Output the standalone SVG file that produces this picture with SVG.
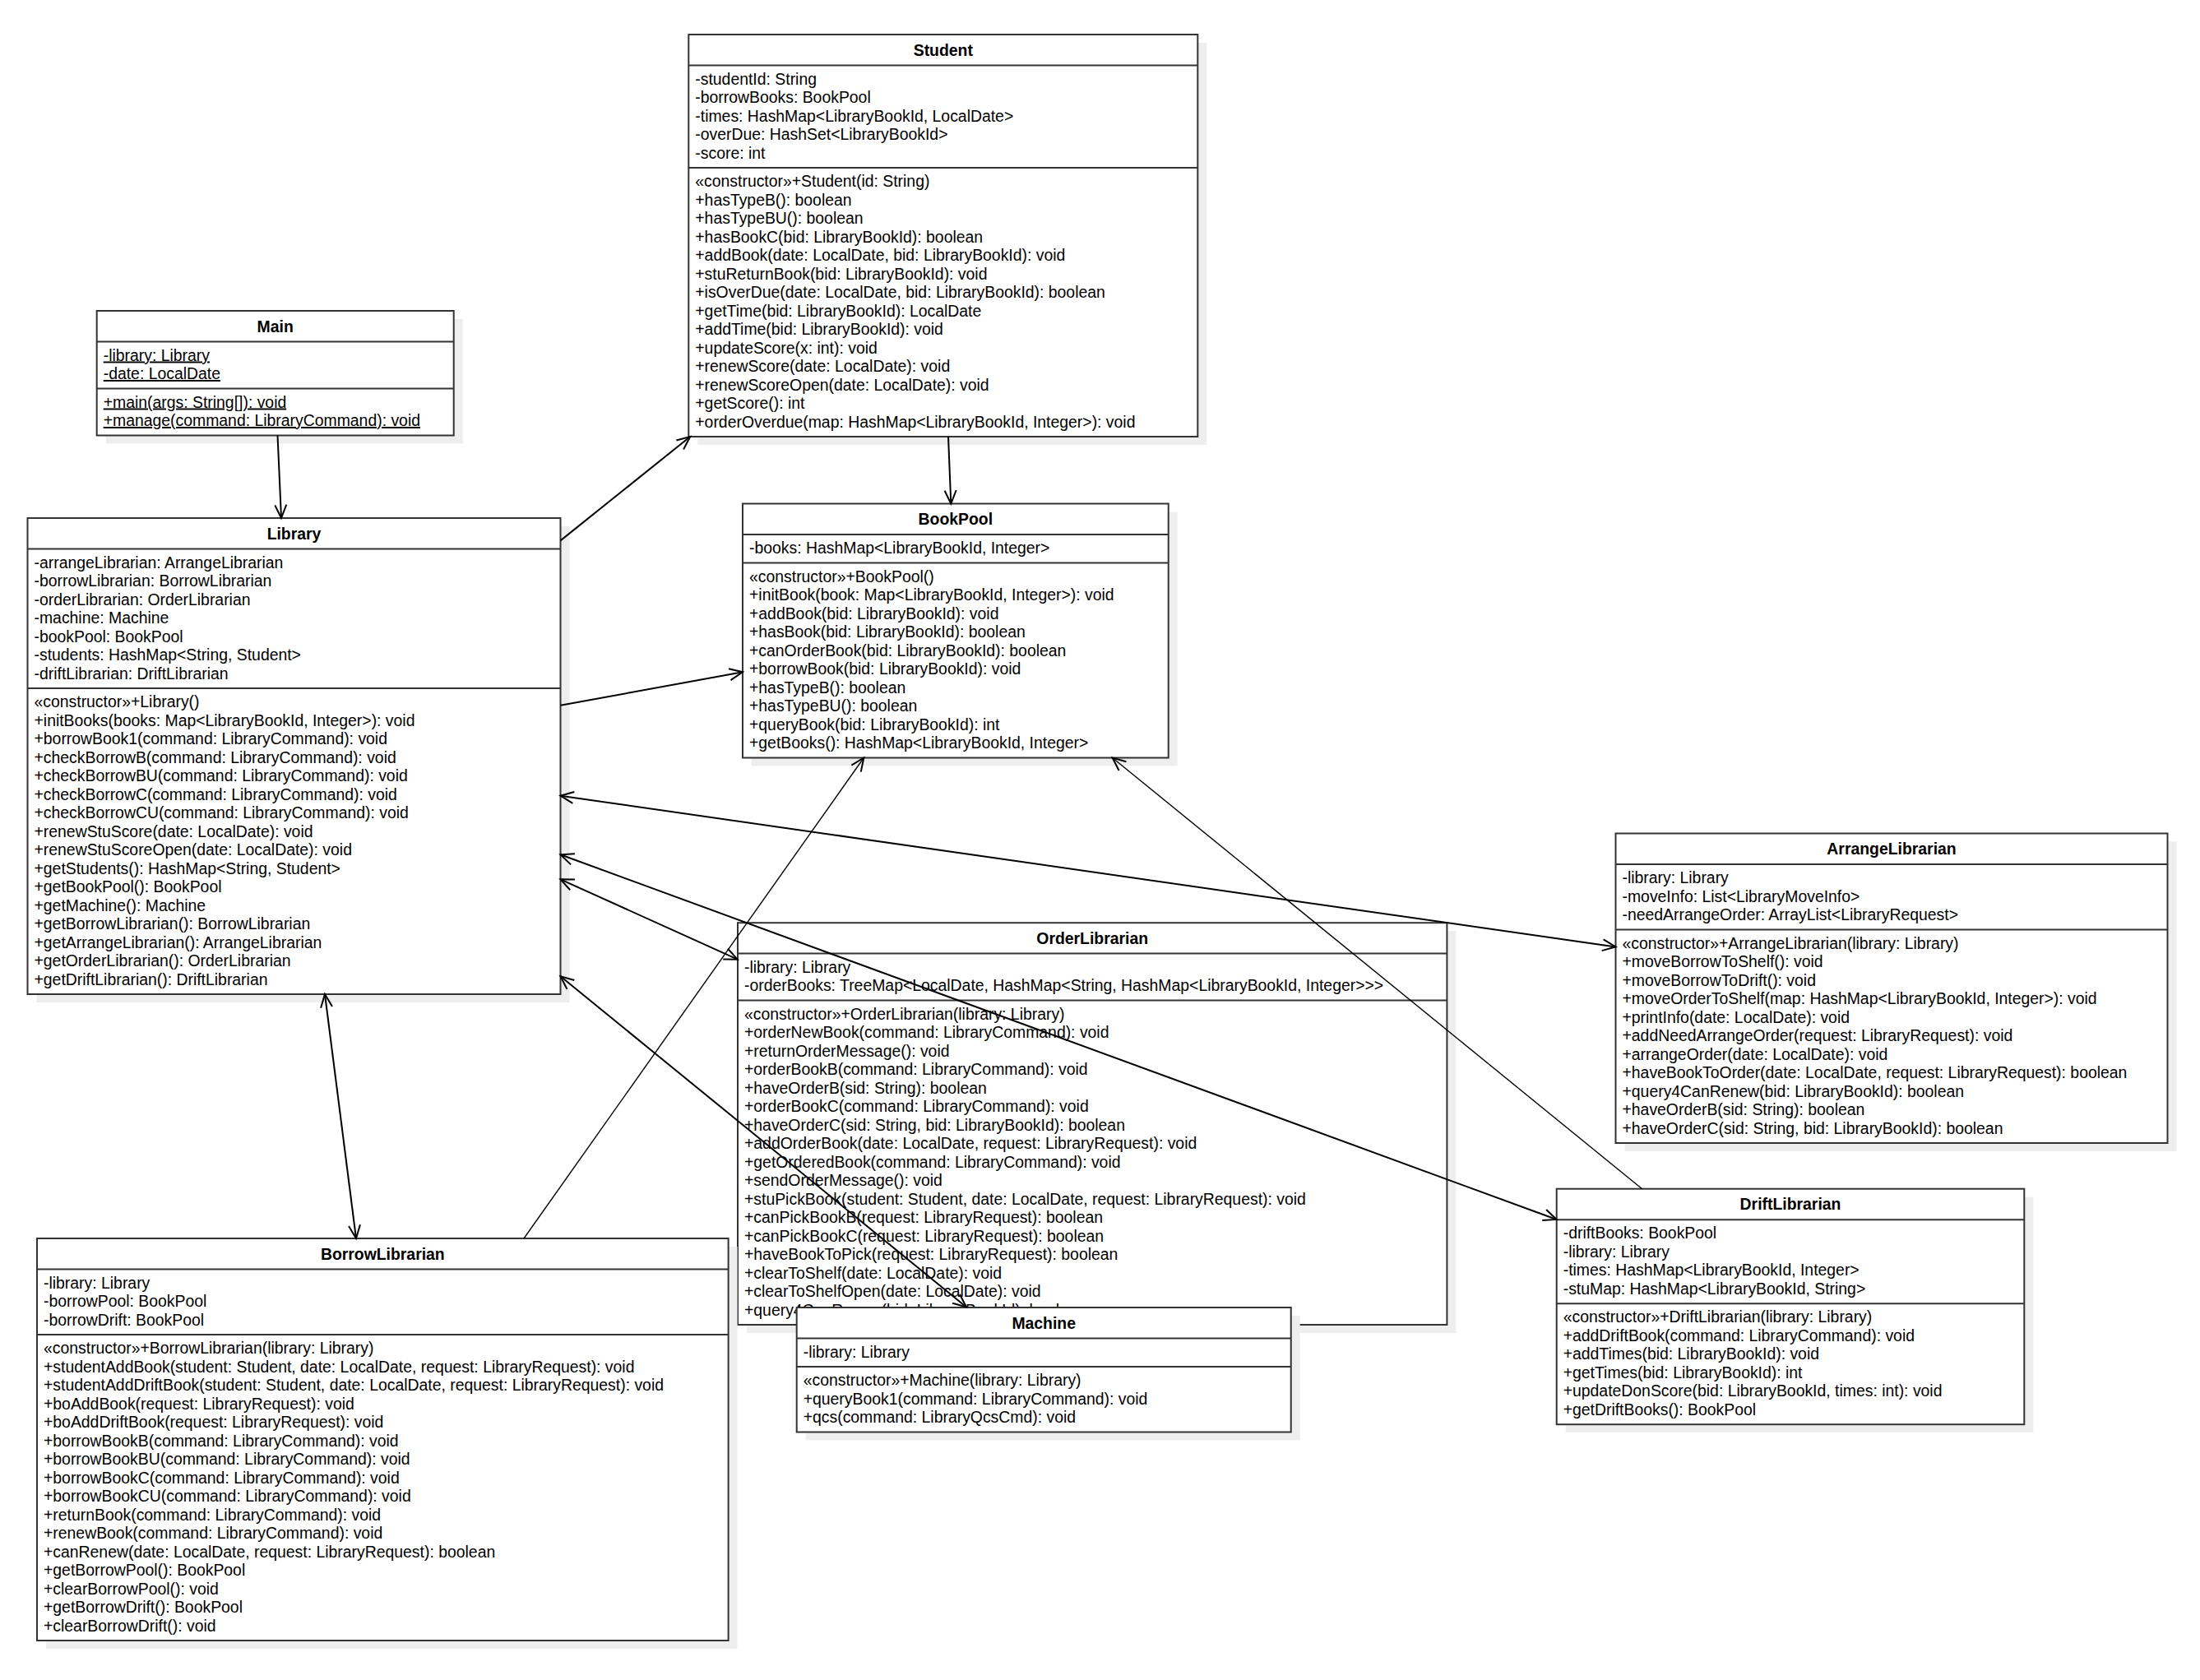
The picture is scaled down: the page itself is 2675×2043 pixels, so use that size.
<svg xmlns="http://www.w3.org/2000/svg" width="2675" height="2043" viewBox="0 0 2675 2043">
<style>
.bg{fill:#ffffff}
.shadow{fill:#eeeeee}
.box{fill:#ffffff;stroke:#333333;stroke-width:2}
.sep{stroke:#333333;stroke-width:2}
.t{font-family:"Liberation Sans",Arial,sans-serif;font-size:19.4px;fill:#000000}
.title{font-family:"Liberation Sans",Arial,sans-serif;font-size:19.4px;font-weight:bold;fill:#000000;text-anchor:middle}
.u{text-decoration:underline}
.conn{fill:none;stroke:#000000;stroke-width:2}
.thin{stroke-width:1.4}
</style>
<defs>
<marker id="arr" markerUnits="userSpaceOnUse" viewBox="-20 -10 22 20" refX="0" refY="0" markerWidth="22" markerHeight="20" orient="auto-start-reverse" overflow="visible">
<path d="M-16,-7 L0,0 L-16,7" fill="none" stroke="#000000" stroke-width="2"/>
</marker>
</defs>
<rect class="bg" x="0" y="0" width="2675" height="2043"/>

<g id="Main">
<rect class="shadow" x="128.7" y="388" width="434" height="151.5"/>
<rect class="box" x="117.7" y="378" width="434" height="151.5"/>
<line class="sep" x1="117.7" y1="415.5" x2="551.7" y2="415.5"/>
<line class="sep" x1="117.7" y1="472.5" x2="551.7" y2="472.5"/>
<text class="title" x="334.7" y="403.7">Main</text>
<text class="t u" x="125.7" y="438.5">-library: Library</text>
<text class="t u" x="125.7" y="461">-date: LocalDate</text>
<text class="t u" x="125.7" y="495.5">+main(args: String[]): void</text>
<text class="t u" x="125.7" y="518">+manage(command: LibraryCommand): void</text>
</g>

<g id="Student">
<rect class="shadow" x="848.3" y="52" width="619" height="489"/>
<rect class="box" x="837.3" y="42" width="619" height="489"/>
<line class="sep" x1="837.3" y1="79.5" x2="1456.3" y2="79.5"/>
<line class="sep" x1="837.3" y1="204" x2="1456.3" y2="204"/>
<text class="title" x="1146.8" y="67.75">Student</text>
<text class="t" x="845.3" y="102.5">-studentId: String<tspan x="845.3" dy="22.5">-borrowBooks: BookPool</tspan><tspan x="845.3" dy="22.5">-times: HashMap&lt;LibraryBookId, LocalDate&gt;</tspan><tspan x="845.3" dy="22.5">-overDue: HashSet&lt;LibraryBookId&gt;</tspan><tspan x="845.3" dy="22.5">-score: int</tspan></text>
<text class="t" x="845.3" y="227">«constructor»+Student(id: String)<tspan x="845.3" dy="22.5">+hasTypeB(): boolean</tspan><tspan x="845.3" dy="22.5">+hasTypeBU(): boolean</tspan><tspan x="845.3" dy="22.5">+hasBookC(bid: LibraryBookId): boolean</tspan><tspan x="845.3" dy="22.5">+addBook(date: LocalDate, bid: LibraryBookId): void</tspan><tspan x="845.3" dy="22.5">+stuReturnBook(bid: LibraryBookId): void</tspan><tspan x="845.3" dy="22.5">+isOverDue(date: LocalDate, bid: LibraryBookId): boolean</tspan><tspan x="845.3" dy="22.5">+getTime(bid: LibraryBookId): LocalDate</tspan><tspan x="845.3" dy="22.5">+addTime(bid: LibraryBookId): void</tspan><tspan x="845.3" dy="22.5">+updateScore(x: int): void</tspan><tspan x="845.3" dy="22.5">+renewScore(date: LocalDate): void</tspan><tspan x="845.3" dy="22.5">+renewScoreOpen(date: LocalDate): void</tspan><tspan x="845.3" dy="22.5">+getScore(): int</tspan><tspan x="845.3" dy="22.5">+orderOverdue(map: HashMap&lt;LibraryBookId, Integer&gt;): void</tspan></text>
</g>

<g id="Library">
<rect class="shadow" x="44.5" y="640" width="648" height="579"/>
<rect class="box" x="33.5" y="630" width="648" height="579"/>
<line class="sep" x1="33.5" y1="667.5" x2="681.5" y2="667.5"/>
<line class="sep" x1="33.5" y1="837" x2="681.5" y2="837"/>
<text class="title" x="357.5" y="655.75">Library</text>
<text class="t" x="41.5" y="690.5">-arrangeLibrarian: ArrangeLibrarian<tspan x="41.5" dy="22.5">-borrowLibrarian: BorrowLibrarian</tspan><tspan x="41.5" dy="22.5">-orderLibrarian: OrderLibrarian</tspan><tspan x="41.5" dy="22.5">-machine: Machine</tspan><tspan x="41.5" dy="22.5">-bookPool: BookPool</tspan><tspan x="41.5" dy="22.5">-students: HashMap&lt;String, Student&gt;</tspan><tspan x="41.5" dy="22.5">-driftLibrarian: DriftLibrarian</tspan></text>
<text class="t" x="41.5" y="860">«constructor»+Library()<tspan x="41.5" dy="22.5">+initBooks(books: Map&lt;LibraryBookId, Integer&gt;): void</tspan><tspan x="41.5" dy="22.5">+borrowBook1(command: LibraryCommand): void</tspan><tspan x="41.5" dy="22.5">+checkBorrowB(command: LibraryCommand): void</tspan><tspan x="41.5" dy="22.5">+checkBorrowBU(command: LibraryCommand): void</tspan><tspan x="41.5" dy="22.5">+checkBorrowC(command: LibraryCommand): void</tspan><tspan x="41.5" dy="22.5">+checkBorrowCU(command: LibraryCommand): void</tspan><tspan x="41.5" dy="22.5">+renewStuScore(date: LocalDate): void</tspan><tspan x="41.5" dy="22.5">+renewStuScoreOpen(date: LocalDate): void</tspan><tspan x="41.5" dy="22.5">+getStudents(): HashMap&lt;String, Student&gt;</tspan><tspan x="41.5" dy="22.5">+getBookPool(): BookPool</tspan><tspan x="41.5" dy="22.5">+getMachine(): Machine</tspan><tspan x="41.5" dy="22.5">+getBorrowLibrarian(): BorrowLibrarian</tspan><tspan x="41.5" dy="22.5">+getArrangeLibrarian(): ArrangeLibrarian</tspan><tspan x="41.5" dy="22.5">+getOrderLibrarian(): OrderLibrarian</tspan><tspan x="41.5" dy="22.5">+getDriftLibrarian(): DriftLibrarian</tspan></text>
</g>

<g id="BookPool">
<rect class="shadow" x="914" y="622.5" width="517.7" height="309"/>
<rect class="box" x="903" y="612.5" width="517.7" height="309"/>
<line class="sep" x1="903" y1="650" x2="1420.7" y2="650"/>
<line class="sep" x1="903" y1="684.5" x2="1420.7" y2="684.5"/>
<text class="title" x="1161.85" y="638.25">BookPool</text>
<text class="t" x="911" y="673">-books: HashMap&lt;LibraryBookId, Integer&gt;</text>
<text class="t" x="911" y="707.5">«constructor»+BookPool()<tspan x="911" dy="22.5">+initBook(book: Map&lt;LibraryBookId, Integer&gt;): void</tspan><tspan x="911" dy="22.5">+addBook(bid: LibraryBookId): void</tspan><tspan x="911" dy="22.5">+hasBook(bid: LibraryBookId): boolean</tspan><tspan x="911" dy="22.5">+canOrderBook(bid: LibraryBookId): boolean</tspan><tspan x="911" dy="22.5">+borrowBook(bid: LibraryBookId): void</tspan><tspan x="911" dy="22.5">+hasTypeB(): boolean</tspan><tspan x="911" dy="22.5">+hasTypeBU(): boolean</tspan><tspan x="911" dy="22.5">+queryBook(bid: LibraryBookId): int</tspan><tspan x="911" dy="22.5">+getBooks(): HashMap&lt;LibraryBookId, Integer&gt;</tspan></text>
</g>

<g id="ArrangeLibrarian">
<rect class="shadow" x="1975.5" y="1023.5" width="671" height="376.5"/>
<rect class="box" x="1964.5" y="1013.5" width="671" height="376.5"/>
<line class="sep" x1="1964.5" y1="1051" x2="2635.5" y2="1051"/>
<line class="sep" x1="1964.5" y1="1130.5" x2="2635.5" y2="1130.5"/>
<text class="title" x="2300" y="1039.25">ArrangeLibrarian</text>
<text class="t" x="1972.5" y="1074">-library: Library<tspan x="1972.5" dy="22.5">-moveInfo: List&lt;LibraryMoveInfo&gt;</tspan><tspan x="1972.5" dy="22.5">-needArrangeOrder: ArrayList&lt;LibraryRequest&gt;</tspan></text>
<text class="t" x="1972.5" y="1153.5">«constructor»+ArrangeLibrarian(library: Library)<tspan x="1972.5" dy="22.5">+moveBorrowToShelf(): void</tspan><tspan x="1972.5" dy="22.5">+moveBorrowToDrift(): void</tspan><tspan x="1972.5" dy="22.5">+moveOrderToShelf(map: HashMap&lt;LibraryBookId, Integer&gt;): void</tspan><tspan x="1972.5" dy="22.5">+printInfo(date: LocalDate): void</tspan><tspan x="1972.5" dy="22.5">+addNeedArrangeOrder(request: LibraryRequest): void</tspan><tspan x="1972.5" dy="22.5">+arrangeOrder(date: LocalDate): void</tspan><tspan x="1972.5" dy="22.5">+haveBookToOrder(date: LocalDate, request: LibraryRequest): boolean</tspan><tspan x="1972.5" dy="22.5">+query4CanRenew(bid: LibraryBookId): boolean</tspan><tspan x="1972.5" dy="22.5">+haveOrderB(sid: String): boolean</tspan><tspan x="1972.5" dy="22.5">+haveOrderC(sid: String, bid: LibraryBookId): boolean</tspan></text>
</g>

<g id="OrderLibrarian">
<rect class="shadow" x="908" y="1132.2" width="862.4" height="488.8"/>
<rect class="box" x="897" y="1122.2" width="862.4" height="488.8"/>
<line class="sep" x1="897" y1="1159.5" x2="1759.4" y2="1159.5"/>
<line class="sep" x1="897" y1="1216.5" x2="1759.4" y2="1216.5"/>
<text class="title" x="1328.2" y="1147.85">OrderLibrarian</text>
<text class="t" x="905" y="1182.5">-library: Library<tspan x="905" dy="22.5">-orderBooks: TreeMap&lt;LocalDate, HashMap&lt;String, HashMap&lt;LibraryBookId, Integer&gt;&gt;&gt;</tspan></text>
<text class="t" x="905" y="1239.5">«constructor»+OrderLibrarian(library: Library)<tspan x="905" dy="22.5">+orderNewBook(command: LibraryCommand): void</tspan><tspan x="905" dy="22.5">+returnOrderMessage(): void</tspan><tspan x="905" dy="22.5">+orderBookB(command: LibraryCommand): void</tspan><tspan x="905" dy="22.5">+haveOrderB(sid: String): boolean</tspan><tspan x="905" dy="22.5">+orderBookC(command: LibraryCommand): void</tspan><tspan x="905" dy="22.5">+haveOrderC(sid: String, bid: LibraryBookId): boolean</tspan><tspan x="905" dy="22.5">+addOrderBook(date: LocalDate, request: LibraryRequest): void</tspan><tspan x="905" dy="22.5">+getOrderedBook(command: LibraryCommand): void</tspan><tspan x="905" dy="22.5">+sendOrderMessage(): void</tspan><tspan x="905" dy="22.5">+stuPickBook(student: Student, date: LocalDate, request: LibraryRequest): void</tspan><tspan x="905" dy="22.5">+canPickBookB(request: LibraryRequest): boolean</tspan><tspan x="905" dy="22.5">+canPickBookC(request: LibraryRequest): boolean</tspan><tspan x="905" dy="22.5">+haveBookToPick(request: LibraryRequest): boolean</tspan><tspan x="905" dy="22.5">+clearToShelf(date: LocalDate): void</tspan><tspan x="905" dy="22.5">+clearToShelfOpen(date: LocalDate): void</tspan><tspan x="905" dy="22.5">+query4CanRenew(bid: LibraryBookId): boolean</tspan></text>
</g>

<g id="Machine">
<rect class="shadow" x="979.7" y="1600" width="601" height="151.5"/>
<rect class="box" x="968.7" y="1590" width="601" height="151.5"/>
<line class="sep" x1="968.7" y1="1627.5" x2="1569.7" y2="1627.5"/>
<line class="sep" x1="968.7" y1="1662" x2="1569.7" y2="1662"/>
<text class="title" x="1269.2" y="1615.75">Machine</text>
<text class="t" x="976.7" y="1650.5">-library: Library</text>
<text class="t" x="976.7" y="1685">«constructor»+Machine(library: Library)<tspan x="976.7" dy="22.5">+queryBook1(command: LibraryCommand): void</tspan><tspan x="976.7" dy="22.5">+qcs(command: LibraryQcsCmd): void</tspan></text>
</g>

<g id="DriftLibrarian">
<rect class="shadow" x="1903.7" y="1455.7" width="568.6" height="286.5"/>
<rect class="box" x="1892.7" y="1445.7" width="568.6" height="286.5"/>
<line class="sep" x1="1892.7" y1="1483.2" x2="2461.3" y2="1483.2"/>
<line class="sep" x1="1892.7" y1="1585.2" x2="2461.3" y2="1585.2"/>
<text class="title" x="2177" y="1471.45">DriftLibrarian</text>
<text class="t" x="1900.7" y="1506.2">-driftBooks: BookPool<tspan x="1900.7" dy="22.5">-library: Library</tspan><tspan x="1900.7" dy="22.5">-times: HashMap&lt;LibraryBookId, Integer&gt;</tspan><tspan x="1900.7" dy="22.5">-stuMap: HashMap&lt;LibraryBookId, String&gt;</tspan></text>
<text class="t" x="1900.7" y="1608.2">«constructor»+DriftLibrarian(library: Library)<tspan x="1900.7" dy="22.5">+addDriftBook(command: LibraryCommand): void</tspan><tspan x="1900.7" dy="22.5">+addTimes(bid: LibraryBookId): void</tspan><tspan x="1900.7" dy="22.5">+getTimes(bid: LibraryBookId): int</tspan><tspan x="1900.7" dy="22.5">+updateDonScore(bid: LibraryBookId, times: int): void</tspan><tspan x="1900.7" dy="22.5">+getDriftBooks(): BookPool</tspan></text>
</g>

<g id="BorrowLibrarian">
<rect class="shadow" x="56" y="1516" width="840.6" height="489"/>
<rect class="box" x="45" y="1506" width="840.6" height="489"/>
<line class="sep" x1="45" y1="1543.5" x2="885.6" y2="1543.5"/>
<line class="sep" x1="45" y1="1623" x2="885.6" y2="1623"/>
<text class="title" x="465.3" y="1531.75">BorrowLibrarian</text>
<text class="t" x="53" y="1566.5">-library: Library<tspan x="53" dy="22.5">-borrowPool: BookPool</tspan><tspan x="53" dy="22.5">-borrowDrift: BookPool</tspan></text>
<text class="t" x="53" y="1646">«constructor»+BorrowLibrarian(library: Library)<tspan x="53" dy="22.5">+studentAddBook(student: Student, date: LocalDate, request: LibraryRequest): void</tspan><tspan x="53" dy="22.5">+studentAddDriftBook(student: Student, date: LocalDate, request: LibraryRequest): void</tspan><tspan x="53" dy="22.5">+boAddBook(request: LibraryRequest): void</tspan><tspan x="53" dy="22.5">+boAddDriftBook(request: LibraryRequest): void</tspan><tspan x="53" dy="22.5">+borrowBookB(command: LibraryCommand): void</tspan><tspan x="53" dy="22.5">+borrowBookBU(command: LibraryCommand): void</tspan><tspan x="53" dy="22.5">+borrowBookC(command: LibraryCommand): void</tspan><tspan x="53" dy="22.5">+borrowBookCU(command: LibraryCommand): void</tspan><tspan x="53" dy="22.5">+returnBook(command: LibraryCommand): void</tspan><tspan x="53" dy="22.5">+renewBook(command: LibraryCommand): void</tspan><tspan x="53" dy="22.5">+canRenew(date: LocalDate, request: LibraryRequest): boolean</tspan><tspan x="53" dy="22.5">+getBorrowPool(): BookPool</tspan><tspan x="53" dy="22.5">+clearBorrowPool(): void</tspan><tspan x="53" dy="22.5">+getBorrowDrift(): BookPool</tspan><tspan x="53" dy="22.5">+clearBorrowDrift(): void</tspan></text>
</g>

<g id="connectors">
<line class="conn" x1="337.5" y1="529.5" x2="342" y2="630" marker-end="url(#arr)"/>
<line class="conn" x1="681.5" y1="657.4" x2="839.2" y2="531" marker-end="url(#arr)"/>
<line class="conn" x1="1153" y1="531" x2="1156.3" y2="612.5" marker-end="url(#arr)"/>
<line class="conn" x1="681.5" y1="857.8" x2="903" y2="817.3" marker-end="url(#arr)"/>
<line class="conn" x1="681.5" y1="967.7" x2="1964.5" y2="1151.5" marker-start="url(#arr)" marker-end="url(#arr)"/>
<line class="conn" x1="681.5" y1="1039.3" x2="1892.7" y2="1483" marker-start="url(#arr)" marker-end="url(#arr)"/>
<line class="conn" x1="681.5" y1="1069.3" x2="896.7" y2="1166.7" marker-start="url(#arr)" marker-end="url(#arr)"/>
<line class="conn" x1="681.5" y1="1187.3" x2="1175" y2="1589.5" marker-start="url(#arr)" marker-end="url(#arr)"/>
<line class="conn" x1="395" y1="1209" x2="433" y2="1506" marker-start="url(#arr)" marker-end="url(#arr)"/>
<line class="conn thin" x1="637" y1="1506" x2="1050.3" y2="921.5" marker-end="url(#arr)"/>
<line class="conn thin" x1="1996.6" y1="1445.7" x2="1352.6" y2="921.5" marker-end="url(#arr)"/>
</g>
</svg>
